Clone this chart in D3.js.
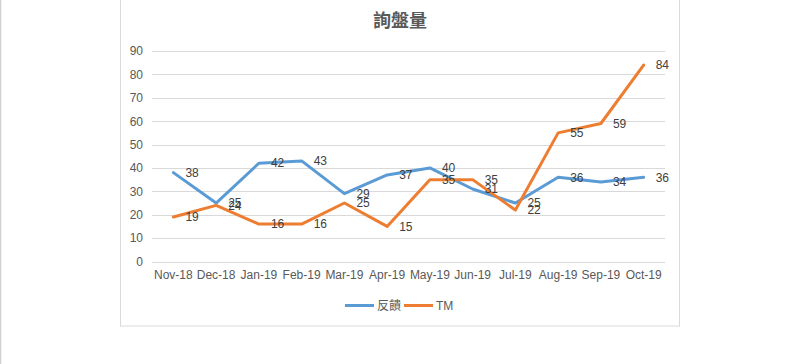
<!DOCTYPE html>
<html><head><meta charset="utf-8">
<script src="https://cdn.jsdelivr.net/npm/d3@7"></script>
<style>body{margin:0;background:#fff;}svg{display:block;}</style>
</head><body>
<svg id="c" width="792" height="364"></svg>
<script>
const categories = ["Nov-18","Dec-18","Jan-19","Feb-19","Mar-19","Apr-19","May-19","Jun-19","Jul-19","Aug-19","Sep-19","Oct-19"];
const feedbackValues = [38,25,42,43,29,37,40,31,25,36,34,36];
const tmValues = [19,24,16,16,25,15,35,35,22,55,59,84];
const yTicks = [0,10,20,30,40,50,60,70,80,90];
const seriesNames = ["反饋","TM"];
const title = "詢盤量";

const svg = d3.select("#c");
const font = "'Liberation Sans', Arial, sans-serif";
const cjk = "'Noto Sans CJK TC', 'Noto Sans CJK SC', sans-serif";

// page left rule
svg.append("line").attr("x1",0.5).attr("x2",0.5).attr("y1",0).attr("y2",364).attr("stroke","#d0d0d0").attr("stroke-width",1.5);
// chart frame
svg.append("rect").attr("x",120.5).attr("y",-5).attr("width",559).attr("height",331).attr("fill","#fff").attr("stroke","#d9d9d9");

const x = d3.scaleBand().domain(categories).range([152,665]);
const y = d3.scaleLinear().domain([0,90]).range([261.5,51]);

// gridlines
svg.append("g").selectAll("line").data(yTicks).join("line")
  .attr("x1",152).attr("x2",665).attr("y1",d=>Math.round(y(d))+0.5).attr("y2",d=>Math.round(y(d))+0.5)
  .attr("stroke","#d9d9d9").attr("stroke-width",1);

// y axis
const yAxis = svg.append("g").attr("transform","translate(152,0)")
  .call(d3.axisLeft(y).tickValues(yTicks).tickSize(0).tickPadding(9));
yAxis.select(".domain").remove();
yAxis.selectAll("text").attr("font-family",font).attr("font-size",12).attr("fill","#595959");

// x axis
const xAxis = svg.append("g").attr("transform","translate(0,266)")
  .call(d3.axisBottom(x).tickSize(0).tickPadding(4));
xAxis.select(".domain").remove();
xAxis.selectAll("text").attr("font-family",font).attr("font-size",12).attr("fill","#595959");

const cx = d => x(d) + x.bandwidth()/2;
const series = [
  {name:seriesNames[0], values:feedbackValues, color:"#5b9bd5"},
  {name:seriesNames[1], values:tmValues, color:"#ed7d31"}
];
const line = d3.line().x((d,i)=>cx(categories[i])).y(d=>y(d));
series.forEach(s=>{
  svg.append("path").datum(s.values).attr("d",line).attr("fill","none")
    .attr("stroke",s.color).attr("stroke-width",3).attr("stroke-linejoin","round").attr("stroke-linecap","round");
});
series.forEach(s=>{
  svg.append("g").selectAll("text").data(s.values).join("text")
    .attr("x",(d,i)=>cx(categories[i])+12).attr("y",d=>y(d)).attr("dy","0.35em")
    .attr("font-family",font).attr("font-size",12).attr("fill","#404040").text(d=>d);
});

// title
svg.append("text").attr("x",400).attr("y",27).attr("text-anchor","middle")
  .attr("font-family",cjk).attr("font-weight","bold").attr("font-size",18).attr("fill","#595959").text(title);

// legend
const lg = svg.append("g");
const items = [{x:345,s:series[0]},{x:404,s:series[1]}];
items.forEach(it=>{
  lg.append("line").attr("x1",it.x).attr("x2",it.x+29).attr("y1",305.5).attr("y2",305.5).attr("stroke",it.s.color).attr("stroke-width",3);
  lg.append("text").attr("x",it.x+32).attr("y",305.5).attr("dy","0.35em")
    .attr("font-family", it.s.name==="TM"?font:cjk).attr("font-size",12).attr("fill","#595959").text(it.s.name);
});
</script>
</body></html>
